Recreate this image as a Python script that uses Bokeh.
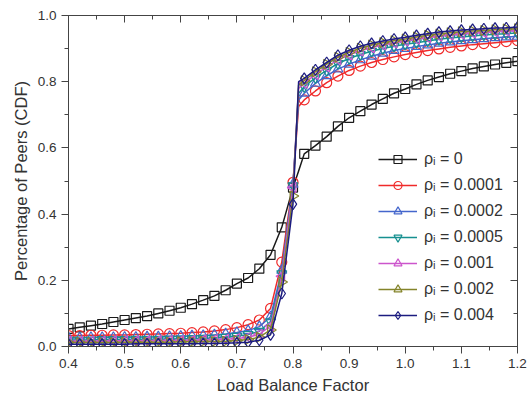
import numpy as np
from bokeh.plotting import figure
from bokeh.models import (Range1d, LinearAxis, FixedTicker, Legend, LegendItem,
                          ColumnDataSource, PrintfTickFormatter)
from bokeh.embed import file_html
from bokeh.resources import INLINE

# x positions (Load Balance Factor)
load_factor = [0.40, 0.42, 0.44, 0.46, 0.48, 0.50, 0.52, 0.54, 0.56, 0.58,
               0.60, 0.62, 0.64, 0.66, 0.68, 0.70, 0.72, 0.74, 0.76, 0.78,
               0.80, 0.81, 0.82, 0.84, 0.86, 0.88, 0.90, 0.92, 0.94, 0.96,
               0.98, 1.00, 1.02, 1.04, 1.06, 1.08, 1.10, 1.12, 1.14, 1.16,
               1.18, 1.20]

cdf_rho_0 = [0.053, 0.058, 0.063, 0.068, 0.074, 0.080, 0.086, 0.092, 0.100, 0.108,
             0.117, 0.128, 0.140, 0.153, 0.170, 0.190, 0.207, 0.235, 0.277, 0.360,
             0.480, 0.530, 0.582, 0.607, 0.634, 0.665, 0.691, 0.711, 0.731, 0.748,
             0.765, 0.778, 0.792, 0.804, 0.814, 0.824, 0.832, 0.840, 0.846, 0.852,
             0.857, 0.862]

cdf_rho_0001 = [0.033, 0.033, 0.034, 0.034, 0.035, 0.035, 0.036, 0.037, 0.038, 0.039,
                0.040, 0.042, 0.044, 0.047, 0.051, 0.057, 0.066, 0.080, 0.115, 0.255,
                0.496, 0.725, 0.745, 0.772, 0.797, 0.817, 0.834, 0.847, 0.858, 0.867,
                0.875, 0.882, 0.888, 0.894, 0.899, 0.904, 0.908, 0.912, 0.915, 0.918,
                0.921, 0.924]

cdf_rho_0002 = [0.026, 0.026, 0.027, 0.027, 0.027, 0.028, 0.028, 0.029, 0.029, 0.030,
                0.031, 0.032, 0.033, 0.035, 0.038, 0.042, 0.048, 0.060, 0.090, 0.230,
                0.490, 0.745, 0.765, 0.795, 0.818, 0.838, 0.853, 0.866, 0.877, 0.886,
                0.894, 0.900, 0.906, 0.911, 0.916, 0.920, 0.924, 0.927, 0.930, 0.933,
                0.935, 0.937]

cdf_rho_0005 = [0.020, 0.020, 0.020, 0.021, 0.021, 0.021, 0.022, 0.022, 0.022, 0.023,
                0.023, 0.024, 0.025, 0.026, 0.028, 0.031, 0.036, 0.046, 0.075, 0.220,
                0.486, 0.765, 0.785, 0.812, 0.834, 0.855, 0.870, 0.882, 0.892, 0.900,
                0.907, 0.913, 0.918, 0.923, 0.928, 0.932, 0.935, 0.938, 0.941, 0.943,
                0.945, 0.947]

cdf_rho_001 = [0.016, 0.016, 0.016, 0.016, 0.017, 0.017, 0.017, 0.017, 0.018, 0.018,
               0.018, 0.019, 0.020, 0.021, 0.022, 0.024, 0.028, 0.037, 0.062, 0.212,
               0.480, 0.780, 0.795, 0.822, 0.845, 0.866, 0.881, 0.893, 0.903, 0.911,
               0.917, 0.923, 0.928, 0.933, 0.937, 0.941, 0.944, 0.947, 0.949, 0.951,
               0.953, 0.955]

cdf_rho_002 = [0.012, 0.012, 0.012, 0.012, 0.012, 0.013, 0.013, 0.013, 0.013, 0.013,
               0.014, 0.014, 0.015, 0.015, 0.016, 0.018, 0.021, 0.028, 0.050, 0.195,
               0.455, 0.790, 0.803, 0.830, 0.853, 0.874, 0.889, 0.901, 0.911, 0.918,
               0.924, 0.929, 0.935, 0.940, 0.944, 0.948, 0.951, 0.953, 0.955, 0.957,
               0.959, 0.960]

cdf_rho_004 = [0.007, 0.007, 0.007, 0.007, 0.007, 0.007, 0.008, 0.008, 0.008, 0.008,
               0.008, 0.008, 0.009, 0.009, 0.010, 0.011, 0.013, 0.019, 0.035, 0.160,
               0.430, 0.800, 0.810, 0.836, 0.858, 0.880, 0.895, 0.907, 0.916, 0.923,
               0.929, 0.934, 0.940, 0.945, 0.950, 0.953, 0.956, 0.958, 0.960, 0.962,
               0.963, 0.965]

series_labels = ["ρᵢ = 0", "ρᵢ = 0.0001", "ρᵢ = 0.0002", "ρᵢ = 0.0005",
                 "ρᵢ = 0.001", "ρᵢ = 0.002", "ρᵢ = 0.004"]
series_values = [cdf_rho_0, cdf_rho_0001, cdf_rho_0002, cdf_rho_0005,
                 cdf_rho_001, cdf_rho_002, cdf_rho_004]
series_colors = ["#1a1a1a", "#f02a2a", "#4466cc", "#169090",
                 "#cc55cc", "#84842a", "#1c1c80"]
series_markers = ["square", "circle", "triangle", "inverted_triangle",
                  "triangle", "triangle", "diamond"]
series_angles = [0.0, 0.0, 0.0, 0.0, np.pi / 2, -np.pi / 2, 0.0]
series_sizes = [9, 10, 10, 10, 10, 10, 11]

x_ticks = [0.4, 0.5, 0.6, 0.7, 0.8, 0.9, 1.0, 1.1, 1.2]
x_minor = [0.45, 0.55, 0.65, 0.75, 0.85, 0.95, 1.05, 1.15]
y_ticks = [0.0, 0.2, 0.4, 0.6, 0.8, 1.0]
y_minor = [0.1, 0.3, 0.5, 0.7, 0.9]

FONT = "Liberation Sans"
AXC = "#444444"
TXC = "#333333"

p = figure(width=528, height=399, output_backend="svg", toolbar_location=None,
           x_range=Range1d(0.4, 1.2), y_range=Range1d(0.0, 1.0),
           min_border_left=68, min_border_right=11, min_border_top=15,
           min_border_bottom=53)
p.xgrid.visible = False
p.ygrid.visible = False
p.outline_line_color = AXC
p.background_fill_color = "white"
p.border_fill_color = "white"


def style_axis(ax, ticks, minor, inward, labels):
    ax.ticker = FixedTicker(ticks=ticks, minor_ticks=minor)
    ax.axis_line_color = AXC
    ax.major_tick_line_color = AXC
    ax.minor_tick_line_color = AXC
    if inward:
        ax.major_tick_in = 7
        ax.major_tick_out = 0
        ax.minor_tick_in = 4
        ax.minor_tick_out = 0
    else:
        ax.major_tick_in = 0
        ax.major_tick_out = 7
        ax.minor_tick_in = 0
        ax.minor_tick_out = 4
    if labels:
        ax.formatter = PrintfTickFormatter(format="%.1f")
        ax.major_label_text_font = FONT
        ax.major_label_text_font_size = "13.5px"
        ax.major_label_text_color = TXC
        ax.major_label_standoff = 5
        ax.axis_label_text_font = FONT
        ax.axis_label_text_font_size = "16.5px"
        ax.axis_label_text_font_style = "normal"
        ax.axis_label_text_color = TXC
        ax.axis_label_standoff = 5
    else:
        ax.major_label_text_font_size = "1px"
        ax.major_label_text_color = None
        ax.major_label_standoff = 0


p.xaxis.axis_label = "Load Balance Factor"
p.yaxis.axis_label = "Percentage of Peers (CDF)"
style_axis(p.xaxis[0], x_ticks, x_minor, False, True)
style_axis(p.yaxis[0], y_ticks, y_minor, False, True)

top_axis = LinearAxis()
right_axis = LinearAxis()
style_axis(top_axis, x_ticks, x_minor, True, False)
style_axis(right_axis, y_ticks, y_minor, True, False)
p.add_layout(top_axis, "above")
p.add_layout(right_axis, "right")

x_arr = np.array(load_factor)
marker_mask = np.isclose(np.round(x_arr * 100) % 2, 0)

items = []
for label, vals, color, marker, ang, sz in zip(series_labels, series_values,
                                                series_colors, series_markers,
                                                series_angles, series_sizes):
    y_arr = np.array(vals)
    line = p.line(x_arr, y_arr, line_color=color, line_width=1.5)
    xm = x_arr[marker_mask]
    src = ColumnDataSource(dict(x=xm, y=y_arr[marker_mask],
                                a=np.full(len(xm), ang)))
    sc = p.scatter("x", "y", source=src, marker=marker, size=sz, angle="a",
                   line_color=color, line_width=1.2, fill_color=None)
    items.append(LegendItem(label=label, renderers=[line, sc]))

legend = Legend(items=items, location=(310, 21), padding=0, margin=0,
                spacing=6, glyph_width=39, glyph_height=20, label_height=20,
                label_standoff=7, label_text_font=FONT,
                label_text_font_size="16px", label_text_color=TXC,
                border_line_color=None, background_fill_alpha=0)
p.add_layout(legend)

open("out.html", "w").write(file_html(p, INLINE))
